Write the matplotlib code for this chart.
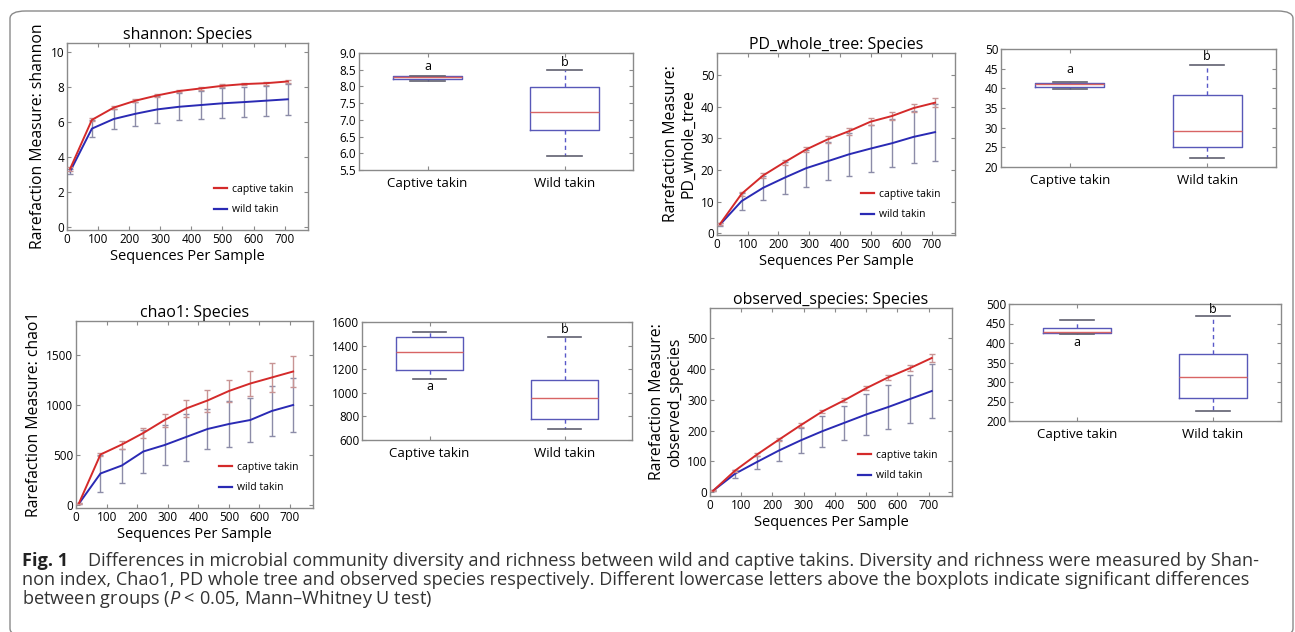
import matplotlib
matplotlib.use("Agg")
import matplotlib.pyplot as plt
from matplotlib.patches import FancyBboxPatch
from matplotlib.lines import Line2D

plt.rcParams['font.family'] = ['Open Sans', 'DejaVu Sans']
plt.rcParams['mathtext.fontset'] = 'custom'
plt.rcParams['mathtext.it'] = 'Open Sans:italic'
plt.rcParams['mathtext.rm'] = 'Open Sans'

# ---------------- data ----------------
seqs = [10, 80, 150, 220, 290, 360, 430, 500, 570, 640, 710]

shannon_captive = [3.3, 6.1, 6.8, 7.2, 7.5, 7.75, 7.9, 8.05, 8.15, 8.2, 8.3]
shannon_captive_err = [0.1, 0.08, 0.08, 0.08, 0.08, 0.08, 0.08, 0.08, 0.08, 0.08, 0.08]
shannon_wild = [3.15, 5.6, 6.15, 6.45, 6.7, 6.85, 6.95, 7.05, 7.12, 7.2, 7.28]
shannon_wild_err = [0.15, 0.5, 0.57, 0.7, 0.75, 0.77, 0.8, 0.85, 0.85, 0.85, 0.88]

pd_captive = [3.0, 12.5, 18.3, 22.5, 26.5, 29.7, 32.3, 35.3, 37.1, 39.6, 41.3]
pd_captive_err = [0.3, 0.6, 0.8, 0.8, 0.9, 1.0, 1.1, 1.2, 1.3, 1.3, 1.4]
pd_wild = [2.8, 10.2, 14.4, 17.6, 20.6, 22.8, 25.0, 26.8, 28.5, 30.5, 32.0]
pd_wild_err = [0.5, 2.7, 3.7, 5.1, 5.8, 6.0, 6.8, 7.3, 7.5, 8.2, 9.0]

chao_captive = [20, 505, 605, 720, 850, 965, 1045, 1140, 1215, 1275, 1335]
chao_captive_err = [5, 15, 40, 50, 65, 85, 110, 110, 125, 145, 155]
chao_wild = [15, 315, 395, 535, 600, 680, 760, 810, 850, 940, 1000]
chao_wild_err = [5, 185, 170, 215, 200, 235, 200, 230, 220, 250, 270]

obs_captive = [5, 70, 122, 170, 217, 262, 298, 337, 372, 402, 435]
obs_captive_err = [1, 3, 4, 5, 6, 6, 7, 7, 8, 10, 12]
obs_wild = [5, 60, 98, 135, 168, 198, 225, 252, 276, 302, 328]
obs_wild_err = [1, 13, 21, 33, 40, 50, 55, 67, 71, 79, 86]

groups = ['Captive takin', 'Wild takin']
# [whislo, q1, median, q3, whishi]
shannon_box = {'captive': [8.15, 8.22, 8.27, 8.30, 8.30], 'wild': [5.93, 6.70, 7.25, 7.97, 8.50]}
pd_box = {'captive': [39.8, 40.3, 41.0, 41.3, 41.5], 'wild': [22.2, 25.0, 29.2, 38.3, 46.0]}
chao_box = {'captive': [1120, 1195, 1350, 1475, 1515], 'wild': [690, 780, 955, 1105, 1470]}
obs_box = {'captive': [422, 425, 427, 438, 458], 'wild': [226, 260, 313, 373, 470]}
letters = ['a', 'b']

W, H = 1295, 632
fig = plt.figure(figsize=(W / 100, H / 100), dpi=100)
fig.patch.set_facecolor('white')

frame = FancyBboxPatch((10 / W, -4 / H), 1283 / W, 625 / H,
                       boxstyle="round,pad=0,rounding_size=0.012",
                       transform=fig.transFigure, fill=False,
                       edgecolor='#8a8a8a', linewidth=1.0)
fig.patches.append(frame)


def ax_px(l, t, r, b):
    return fig.add_axes([l / W, 1 - b / H, (r - l) / W, (b - t) / H])


SPINE = '#8a8a8a'
RED = '#d42a2a'
BLUE = '#2a2ab4'


def style(ax):
    for s in ax.spines.values():
        s.set_color(SPINE)
        s.set_linewidth(1.0)
    ax.tick_params(direction='in', top=True, right=True, length=3,
                   color=SPINE, labelsize=8.5, pad=2)


def rare(ax, cap, cap_err, wild, wild_err, title, ylabel, ylim, yticks):
    ax.errorbar(seqs, wild, yerr=wild_err, color=BLUE, lw=1.4,
                ecolor='#8c8ca8', elinewidth=1.0, capsize=2.5, capthick=1.0,
                zorder=2)
    ax.errorbar(seqs, cap, yerr=cap_err, color=RED, lw=1.4,
                ecolor='#c89494', elinewidth=1.0, capsize=2.5, capthick=1.0,
                zorder=3)
    ax.set_xlim(0, 775)
    ax.set_ylim(*ylim)
    ax.set_xticks(range(0, 701, 100))
    ax.set_yticks(yticks)
    ax.set_title(title, fontsize=11.5, pad=3)
    ax.set_xlabel('Sequences Per Sample', fontsize=10.5, labelpad=2)
    ax.set_ylabel(ylabel, fontsize=11.3, labelpad=3, linespacing=1.1)
    style(ax)
    handles = [Line2D([], [], color=RED, lw=1.6), Line2D([], [], color=BLUE, lw=1.6)]
    ax.legend(handles, ['captive takin', 'wild takin'], loc='lower right', frameon=False,
              fontsize=7.5, handlelength=1.2, handletextpad=0.5,
              labelspacing=0.9, borderaxespad=1.0)


def box(ax, data, ylim, yticks, letter_pos, fmt=None):
    stats = []
    for key, name in zip(['captive', 'wild'], groups):
        lo, q1, med, q3, hi = data[key]
        stats.append(dict(whislo=lo, q1=q1, med=med, q3=q3, whishi=hi,
                          fliers=[], label=name))
    ax.bxp(stats, positions=[1, 2], widths=0.5, showfliers=False,
           boxprops=dict(color='#5858b8', linewidth=1.0),
           medianprops=dict(color='#d86464', linewidth=1.0),
           whiskerprops=dict(color='#5858c8', linewidth=1.0, linestyle=(0, (3, 2.5))),
           capprops=dict(color='#606070', linewidth=1.2),
           capwidths=0.25)
    ax.set_xlim(0.5, 2.5)
    ax.set_ylim(*ylim)
    ax.set_yticks(yticks)
    if fmt:
        ax.set_yticklabels([fmt.format(v) for v in yticks])
    ax.set_xticks([1, 2])
    ax.set_xticklabels(groups, fontsize=9.5)
    style(ax)
    ax.tick_params(axis='x', labelsize=9.5, pad=5)
    for x, (lt, yp) in zip([1, 2], zip(letters, letter_pos)):
        ax.text(x, yp, lt, ha='center', va='center', fontsize=9)


# Shannon
ax1 = ax_px(67, 43, 308, 230)
rare(ax1, shannon_captive, shannon_captive_err, shannon_wild, shannon_wild_err,
     'shannon: Species', 'Rarefaction Measure: shannon', (-0.2, 10.5), range(0, 11, 2))

ax2 = ax_px(359, 53, 633, 170)
box(ax2, shannon_box, (5.5, 9.0), [5.5, 6.0, 6.5, 7.0, 7.5, 8.0, 8.5, 9.0],
    [8.6, 8.72], fmt='{:.1f}')

# PD whole tree
ax3 = ax_px(717, 53, 955, 235)
rare(ax3, pd_captive, pd_captive_err, pd_wild, pd_wild_err,
     'PD_whole_tree: Species', 'Rarefaction Measure:\nPD_whole_tree', (-0.5, 57), range(0, 51, 10))

ax4 = ax_px(1001, 49, 1276, 167)
box(ax4, pd_box, (20, 50), range(20, 51, 5), [44.7, 48.0])

# Chao1
ax5 = ax_px(76, 321, 313, 508)
rare(ax5, chao_captive, chao_captive_err, chao_wild, chao_wild_err,
     'chao1: Species', 'Rarefaction Measure: chao1', (-30, 1840), [0, 500, 1000, 1500])

ax6 = ax_px(362, 322, 632, 440)
box(ax6, chao_box, (600, 1600), range(600, 1601, 200), [1050, 1535])

# Observed species
ax7 = ax_px(710, 308, 952, 496)
rare(ax7, obs_captive, obs_captive_err, obs_wild, obs_wild_err,
     'observed_species: Species', 'Rarefaction Measure:\nobserved_species', (-12, 597), range(0, 501, 100))

ax8 = ax_px(1009, 304, 1281, 421)
box(ax8, obs_box, (200, 500), range(200, 501, 50), [400, 485])

# caption
cap_lines = [
    "Differences in microbial community diversity and richness between wild and captive takins. Diversity and richness were measured by Shan-",
    "non index, Chao1, PD whole tree and observed species respectively. Different lowercase letters above the boxplots indicate significant differences",
    "between groups ($\\it{P}$ < 0.05, Mann\u2013Whitney U test)",
]
CAP_FS = 13.1
fig.text(22 / W, 1 - 561 / H, "Fig. 1", fontsize=CAP_FS, fontweight='bold', va='center', color='#222222')
fig.text(88 / W, 1 - 561 / H, cap_lines[0], fontsize=CAP_FS, va='center', color='#333333')
fig.text(22 / W, 1 - 580 / H, cap_lines[1], fontsize=CAP_FS, va='center', color='#333333')
fig.text(22 / W, 1 - 599 / H, cap_lines[2], fontsize=CAP_FS, va='center', color='#333333')

fig.savefig('out.png', dpi=100)
